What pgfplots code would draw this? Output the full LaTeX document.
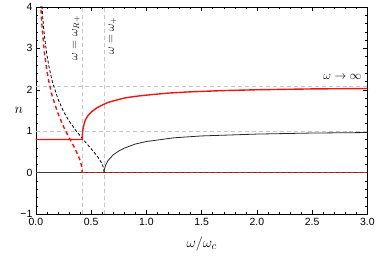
\documentclass[border=0pt]{standalone}
\usepackage{pgfplots}
\pgfplotsset{compat=1.18}
\usepackage{fontspec}
\setmainfont{Liberation Sans}
\definecolor{mred}{RGB}{240,20,20}
\begin{document}
\begin{tikzpicture}
\begin{axis}[
  scale only axis, width=333pt, height=208pt,
  xmin=0, xmax=3, ymin=-1, ymax=4,
  xtick={0,0.5,1,1.5,2,2.5,3}, xticklabels={0.0,0.5,1.0,1.5,2.0,2.5,3.0},
  ytick={-1,0,1,2,3,4}, yticklabels={−1,0,1,2,3,4},
  minor x tick num=4, minor y tick num=4,
  tick align=inside, major tick length=4pt, minor tick length=2.5pt,
  tick style={black, line width=0.4pt},
  ticklabel style={font=\fontsize{10.5}{12}\selectfont},
  xticklabel style={yshift=-1pt},
  axis line style={line width=0.6pt},
  xlabel={$\omega/\omega_c$}, ylabel={$n$},
  xlabel style={font=\fontsize{15}{17}\selectfont, at={(axis description cs:0.5,0)}, anchor=center, yshift=-30pt},
  ylabel style={font=\fontsize{15}{17}\selectfont, rotate=-90, at={(axis description cs:0,0.5)}, anchor=center, xshift=-17pt},
]
% guide lines
\addplot[gray!45, dash pattern=on 4pt off 3pt, line width=0.7pt] coordinates {(0,1) (3,1)};
\addplot[gray!45, dash pattern=on 4pt off 3pt, line width=0.7pt] coordinates {(0,2.08) (3,2.08)};
\addplot[gray!45, dash pattern=on 4pt off 3pt, line width=0.7pt] coordinates {(0.42,-1) (0.42,4)};
\addplot[gray!45, dash pattern=on 4pt off 3pt, line width=0.7pt] coordinates {(0.618,-1) (0.618,4)};
% black solid along zero
\addplot[black!75, line width=0.8pt] coordinates {(0,0) (3,0)};
% black dashed
\addplot[black, line width=0.8pt, dash pattern=on 3pt off 2pt] coordinates {
(0.045,4.50) (0.05,4.25) (0.06,3.84) (0.07,3.50) (0.08,3.25) (0.10,2.84) (0.12,2.54) (0.15,2.19)
(0.20,1.78) (0.25,1.48) (0.30,1.25) (0.35,1.06) (0.40,0.89) (0.45,0.73) (0.50,0.577)
(0.55,0.416) (0.58,0.30) (0.60,0.204) (0.61,0.135) (0.618,0)};
% black solid rising
\addplot[black!85, line width=0.8pt] coordinates {
(0.618,0) (0.62,0.07) (0.625,0.12) (0.63,0.17) (0.65,0.28) (0.70,0.43) (0.75,0.52) (0.80,0.59)
(0.90,0.69) (1.0,0.75) (1.25,0.84) (1.5,0.885) (2.0,0.93) (2.5,0.955) (3.0,0.967)};
% red solid
\addplot[mred, line width=1.4pt] coordinates {
(0,0.80) (0.42,0.80) (0.4205,0.88) (0.422,0.95) (0.425,1.02) (0.43,1.10) (0.44,1.21) (0.45,1.28)
(0.47,1.37) (0.50,1.46) (0.55,1.56) (0.60,1.63) (0.65,1.69) (0.70,1.73) (0.80,1.80) (0.90,1.84)
(1.0,1.87) (1.2,1.92) (1.4,1.95) (1.7,1.98) (2.0,2.0) (2.5,2.02) (3.0,2.03)};
% red dashed
\addplot[mred, line width=1.4pt, dash pattern=on 4pt off 3pt] coordinates {
(0.04,4.27) (0.05,3.76) (0.06,3.39) (0.08,2.84) (0.10,2.46) (0.12,2.17) (0.15,1.83) (0.20,1.43)
(0.25,1.11) (0.30,0.85) (0.35,0.60) (0.38,0.43) (0.40,0.30) (0.41,0.20) (0.415,0.14) (0.42,0)};
\addplot[mred, line width=1.4pt, dash pattern=on 3pt off 3pt] coordinates {(0.42,0) (3,0)};
\node[rotate=90, font=\fontsize{11.5}{13}\selectfont] at (axis cs:0.365,3.25) {$\omega=\omega_{R+}$};
\node[rotate=90, font=\fontsize{11.5}{13}\selectfont] at (axis cs:0.695,3.3) {$\omega=\omega_{+}$};
\node[font=\fontsize{11.5}{13}\selectfont, anchor=east] at (axis cs:2.98,2.3) {$\omega\to\infty$};
\end{axis}
\path (current axis.south west) +(-36pt,-43pt);
\path (current axis.north east) +(9pt,6pt);
\end{tikzpicture}
\end{document}
